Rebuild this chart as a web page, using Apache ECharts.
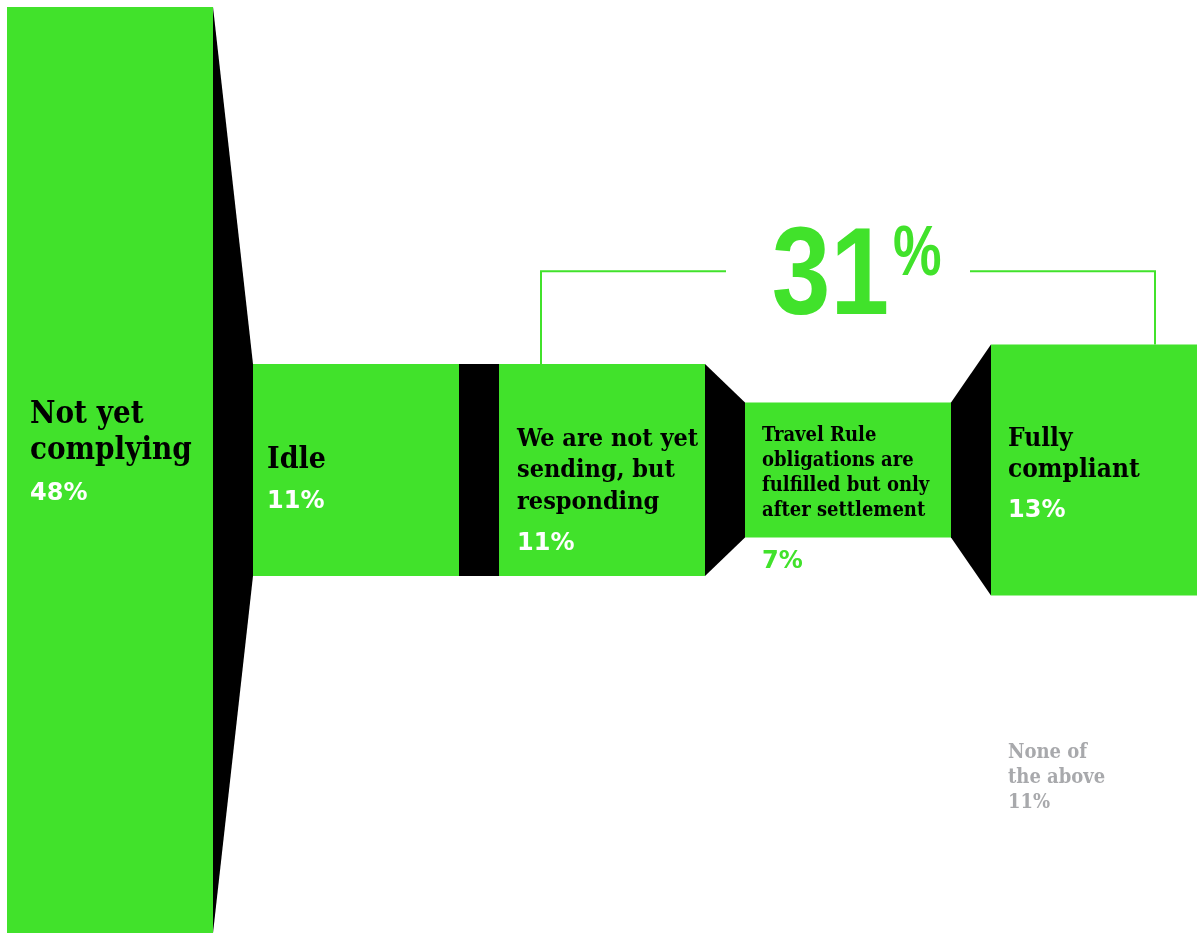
<!DOCTYPE html>
<html>
<head>
<meta charset="utf-8">
<script src="https://cdn.jsdelivr.net/npm/echarts@6/dist/echarts.min.js"></script>
<style>
  html, body { margin: 0; padding: 0; background: #fff; }
  #chart { width: 1198px; height: 934px; }
</style>
</head>
<body>
<div id="chart"></div>
<script>
// --- data ---
var stages = [
  'Not yet\ncomplying',
  'Idle',
  'We are not yet\nsending, but\nresponding',
  'Travel Rule\nobligations are\nfulfilled but only\nafter settlement',
  'Fully\ncompliant'
];
var shares = [48, 11, 11, 7, 13];
var highlightShare = 31;
var otherStage = 'None of\nthe above';
var otherShare = 11;

// --- look ---
var green = '#41e22b';
var grey = '#a8a9ac';
var slab = '"DejaVu Serif Condensed", "DejaVu Serif", serif';
var sans = '"DejaVu Sans", sans-serif';
var narrow = '"Liberation Sans Narrow", sans-serif';
var BAR_W = 206 / 246;   // bar width in category units (pitch = 1)

// label layout per bar: left pad, name font, line height, first line offset, pct offset (px from bar centre)
var labelLayout = [
  { pad: 23, size: 31, lh: 36, first: -55, pct: 24, pctColor: '#fff' },
  { pad: 14, size: 30, lh: 36, first: -10, pct: 32, pctColor: '#fff' },
  { pad: 18, size: 25, lh: 31.5, first: -31, pct: 74, pctColor: '#fff' },
  { pad: 17, size: 20, lh: 25, first: -34, pct: 92, pctColor: green },
  { pad: 17, size: 26, lh: 31, first: -31, pct: 41, pctColor: '#fff' }
];

var chart = echarts.init(document.getElementById('chart'));

function renderStage(params, api) {
  var i = params.dataIndex;
  var x0 = api.value(0);
  var v = api.value(1);
  var tl = api.coord([x0, v / 2]);
  var br = api.coord([x0 + BAR_W, -v / 2]);
  var children = [];

  if (i < shares.length - 1) {
    var nv = shares[i + 1];
    children.push({
      type: 'polygon',
      shape: { points: [
        api.coord([x0 + BAR_W, v / 2]),
        api.coord([x0 + 1, nv / 2]),
        api.coord([x0 + 1, -nv / 2]),
        api.coord([x0 + BAR_W, -v / 2])
      ] },
      style: { fill: '#000' }
    });
  }
  children.push({
    type: 'rect',
    shape: { x: tl[0], y: tl[1], width: br[0] - tl[0], height: br[1] - tl[1] },
    style: { fill: green }
  });

  var L = labelLayout[i];
  var cy = (tl[1] + br[1]) / 2;
  var tx = tl[0] + L.pad;
  stages[i].split('\n').forEach(function (line, k) {
    children.push({
      type: 'text',
      style: {
        x: tx, y: cy + L.first + k * L.lh, text: line,
        fill: '#000', font: 'bold ' + L.size + 'px ' + slab,
        verticalAlign: 'middle', align: 'left'
      }
    });
  });
  children.push({
    type: 'text',
    style: {
      x: tx, y: cy + L.pct, text: shares[i] + '%',
      fill: L.pctColor, font: 'bold 24px ' + sans,
      verticalAlign: 'middle', align: 'left'
    }
  });
  return { type: 'group', children: children };
}

function renderBracket(params, api) {
  var a = api.coord([2, shares[2] / 2]);
  var b = api.coord([4 + BAR_W, shares[4] / 2]);
  var lineY = api.coord([0, 10.3])[1];
  var lx = a[0] + 42, rx = b[0] - 42;
  return {
    type: 'group',
    children: [
      { type: 'polyline', shape: { points: [[lx, a[1]], [lx, lineY], [726, lineY]] },
        style: { stroke: green, lineWidth: 2, fill: null } },
      { type: 'polyline', shape: { points: [[970, lineY], [rx, lineY], [rx, b[1]]] },
        style: { stroke: green, lineWidth: 2, fill: null } },
      { type: 'text', x: 889, y: 280, scaleX: 0.85, originX: 0, originY: 0,
        style: { x: 0, y: 0, text: String(highlightShare), fill: green,
        font: 'bold 124px ' + narrow, align: 'right', verticalAlign: 'middle' } },
      { type: 'text', x: 893, y: 256, scaleX: 0.78, originX: 0, originY: 0,
        style: { x: 0, y: 0, text: '%', fill: green,
        font: 'bold 70px ' + narrow, align: 'left', verticalAlign: 'middle' } }
    ]
  };
}

var otherLines = otherStage.split('\n').concat([otherShare + '%']);

chart.setOption({
  animation: false,
  grid: { left: 7, right: 1, top: 7, bottom: 1 },
  xAxis: { type: 'value', min: 0, max: 4 + BAR_W, show: false },
  yAxis: { type: 'value', min: -24, max: 24, show: false },
  graphic: otherLines.map(function (t, k) {
    return {
      type: 'text', left: 1008, top: 743 + k * 25,
      style: { text: t, fill: grey, font: 'bold 20px ' + slab }
    };
  }),
  series: [
    {
      type: 'custom',
      renderItem: renderStage,
      data: shares.map(function (v, i) { return [i, v]; })
    },
    {
      type: 'custom',
      renderItem: renderBracket,
      data: [[0, highlightShare]]
    }
  ]
});
window.addEventListener('resize', function () { chart.resize(); });
</script>
</body>
</html>
